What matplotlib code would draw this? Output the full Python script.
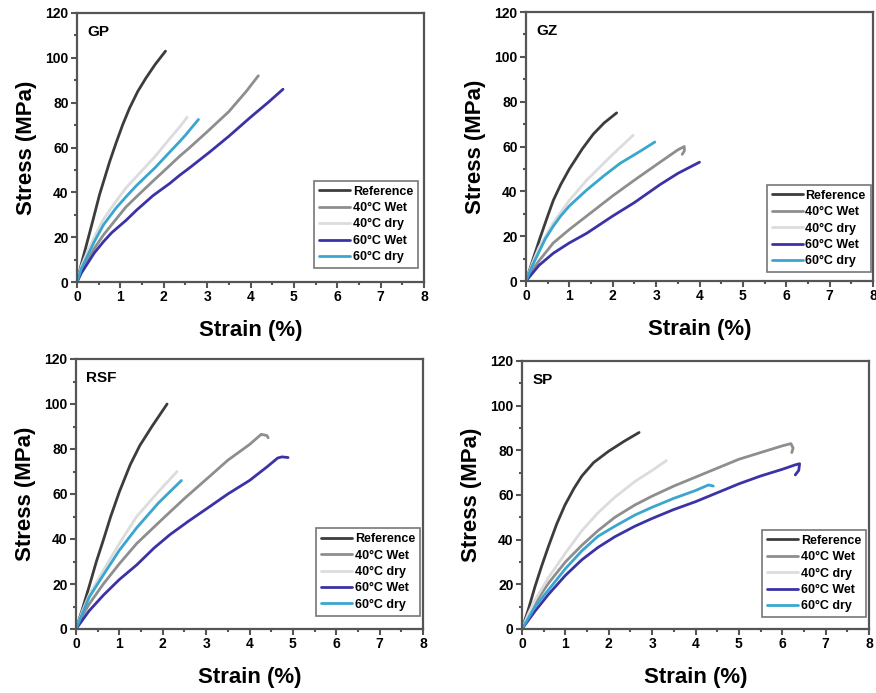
import matplotlib
matplotlib.use("Agg")
import matplotlib.pyplot as plt
from matplotlib.ticker import MultipleLocator

plt.rcParams['font.family'] = ['Liberation Sans', 'DejaVu Sans']
plt.rcParams['font.weight'] = 'bold'

series_names = ["Reference", "40°C Wet", "40°C dry", "60°C Wet", "60°C dry"]
series_colors = ["#3c3c3c", "#8e8e8e", "#dcdcdc", "#3b32a6", "#3aa6cf"]

# GP panel
gp_ref_x = [0, 0.1, 0.21, 0.36, 0.52, 0.75, 0.9, 1.05, 1.21, 1.4, 1.59, 1.8, 2.04]
gp_ref_y = [0, 8, 16, 27, 39, 53.5, 62, 70, 77.5, 85, 91, 97, 103]
gp_w40_x = [0, 0.1, 0.25, 0.4, 0.61, 0.9, 1.13, 1.37, 1.75, 2.14, 2.36, 2.6, 3, 3.5, 3.9, 4.18]
gp_w40_y = [0, 5, 10, 15, 21, 28, 33.5, 38, 45, 52, 56, 60, 67, 76, 85, 92]
gp_d40_x = [0, 0.1, 0.25, 0.4, 0.61, 0.9, 1.13, 1.37, 1.8, 2.14, 2.36, 2.54]
gp_d40_y = [0, 7, 14, 20, 28, 36, 42, 47, 56, 64, 69, 73.5]
gp_w60_x = [0, 0.1, 0.25, 0.4, 0.61, 0.8, 1.13, 1.37, 1.75, 2.14, 2.36, 2.6, 3.06, 3.5, 4, 4.4, 4.75]
gp_w60_y = [0, 4, 8.5, 13, 18, 22, 27.5, 32, 38.5, 44, 47.5, 51, 58, 65, 73.5, 80, 86]
gp_d60_x = [0, 0.1, 0.25, 0.4, 0.61, 0.9, 1.13, 1.37, 1.8, 2.14, 2.36, 2.5, 2.8]
gp_d60_y = [0, 6, 12, 18, 25.5, 33, 38, 43, 51, 58, 62.5, 65.5, 72.5]

# GZ panel
gz_ref_x = [0, 0.15, 0.32, 0.5, 0.63, 0.8, 1.0, 1.3, 1.55, 1.8, 2.09]
gz_ref_y = [0, 9, 19, 29, 36, 43, 50, 59, 65.5, 70.5, 75]
gz_w40_x = [0, 0.15, 0.3, 0.63, 1, 1.4, 2, 2.5, 3.09, 3.5, 3.65, 3.65, 3.6]
gz_w40_y = [0, 5, 9, 17, 23, 29, 38, 45, 53, 58.5, 60, 58, 56.5]
gz_d40_x = [0, 0.15, 0.3, 0.63, 1, 1.4, 2, 2.47]
gz_d40_y = [0, 8, 15, 26, 36, 45, 56.5, 65]
gz_w60_x = [0, 0.15, 0.3, 0.63, 1, 1.4, 2, 2.5, 3.09, 3.5, 4]
gz_w60_y = [0, 3.5, 7, 12.4, 17, 21.3, 29, 35, 43, 48, 53]
gz_d60_x = [0, 0.15, 0.3, 0.45, 0.63, 0.8, 1, 1.4, 1.8, 2.17, 2.6, 2.97]
gz_d60_y = [0, 7, 13, 19, 24.5, 29, 33.5, 40.6, 47, 52.5, 57.5, 62]

# RSF panel
rsf_ref_x = [0, 0.15, 0.32, 0.47, 0.63, 0.8, 1.0, 1.25, 1.47, 1.75, 2.1]
rsf_ref_y = [0, 9, 20, 30, 39.5, 50, 61, 73, 81.5, 90, 100]
rsf_w40_x = [0, 0.15, 0.3, 0.63, 1, 1.4, 2, 2.5, 3.09, 3.5, 4, 4.27, 4.4, 4.43]
rsf_w40_y = [0, 6, 11, 20, 29, 38, 49, 58, 68, 75, 82, 86.5, 86, 85]
rsf_d40_x = [0, 0.15, 0.3, 0.63, 1, 1.4, 1.9, 2.33]
rsf_d40_y = [0, 8, 15, 26, 38, 50, 61, 70]
rsf_w60_x = [0, 0.15, 0.3, 0.63, 1, 1.4, 1.8, 2.17, 2.6, 3.09, 3.5, 4, 4.4, 4.65, 4.75, 4.89]
rsf_w60_y = [0, 4, 8, 15, 22, 28.5, 36, 42, 48, 54.5, 60, 66, 72, 76, 76.5, 76.2]
rsf_d60_x = [0, 0.15, 0.3, 0.63, 1, 1.4, 1.9, 2.43]
rsf_d60_y = [0, 7, 14, 24, 35, 45, 56, 66]

# SP panel
sp_ref_x = [0, 0.15, 0.3, 0.45, 0.61, 0.8, 0.99, 1.2, 1.38, 1.65, 1.99, 2.35, 2.7]
sp_ref_y = [0, 9, 19, 28, 37, 47, 55.5, 63, 68.5, 74.5, 79.5, 84, 88]
sp_w40_x = [0, 0.15, 0.3, 0.61, 1, 1.38, 1.75, 2.14, 2.6, 3, 3.5, 4, 4.5, 5, 5.5, 6, 6.2, 6.25, 6.22]
sp_w40_y = [0, 6, 11.5, 20.5, 30, 37.5, 44, 50, 55.5, 59.5, 64, 68, 72, 76, 79, 82, 83, 81, 79]
sp_d40_x = [0, 0.15, 0.3, 0.61, 1, 1.38, 1.75, 2.14, 2.6, 3, 3.33]
sp_d40_y = [0, 7, 13, 23, 34, 44, 52, 59, 66, 71, 75.4]
sp_w60_x = [0, 0.15, 0.3, 0.61, 1, 1.38, 1.75, 2.14, 2.6, 3, 3.5, 4, 4.5, 5, 5.5, 6, 6.3, 6.4, 6.38, 6.3]
sp_w60_y = [0, 4, 8, 15.5, 24, 31, 36.5, 41.3, 46, 49.5, 53.5, 57, 61, 65, 68.5, 71.5, 73.5, 74, 71, 69]
sp_d60_x = [0, 0.15, 0.3, 0.61, 1, 1.38, 1.75, 2.14, 2.6, 3, 3.5, 4, 4.3, 4.41]
sp_d60_y = [0, 5, 10, 17.5, 27, 35, 41.5, 46, 51, 54.5, 58.5, 62, 64.5, 64]

panels = [
    ("GP", [(gp_ref_x, gp_ref_y), (gp_w40_x, gp_w40_y), (gp_d40_x, gp_d40_y),
            (gp_w60_x, gp_w60_y), (gp_d60_x, gp_d60_y)]),
    ("GZ", [(gz_ref_x, gz_ref_y), (gz_w40_x, gz_w40_y), (gz_d40_x, gz_d40_y),
            (gz_w60_x, gz_w60_y), (gz_d60_x, gz_d60_y)]),
    ("RSF", [(rsf_ref_x, rsf_ref_y), (rsf_w40_x, rsf_w40_y), (rsf_d40_x, rsf_d40_y),
             (rsf_w60_x, rsf_w60_y), (rsf_d60_x, rsf_d60_y)]),
    ("SP", [(sp_ref_x, sp_ref_y), (sp_w40_x, sp_w40_y), (sp_d40_x, sp_d40_y),
            (sp_w60_x, sp_w60_y), (sp_d60_x, sp_d60_y)]),
]

W, H = 876, 693
# axes boxes in pixels: left, top, right, bottom
boxes = [(77, 13, 424, 282), (526, 12, 873, 281), (76, 359, 423, 629), (522, 361, 869, 629)]
legend_boxes = [(313, 173, 419, 276), (770, 183, 867, 274), (316, 521, 420, 623), (762, 523, 866, 624)]

fig = plt.figure(figsize=(W / 100, H / 100), dpi=100)
frame_col = "#555555"

for (name, curves), (l, t, r, b), (ll, lt, lr, lb) in zip(panels, boxes, legend_boxes):
    ax = fig.add_axes([l / W, 1 - b / H, (r - l) / W, (b - t) / H])
    for (xs, ys), lab, col in zip(curves, series_names, series_colors):
        ax.plot(xs, ys, color=col, lw=2, label=lab, solid_capstyle='round',
                solid_joinstyle='round')
    ax.set_xlim(0, 8)
    ax.set_ylim(0, 120)
    ax.xaxis.set_major_locator(MultipleLocator(1))
    ax.xaxis.set_minor_locator(MultipleLocator(0.5))
    ax.yaxis.set_major_locator(MultipleLocator(20))
    ax.yaxis.set_minor_locator(MultipleLocator(10))
    ax.tick_params(which='both', direction='out', color=frame_col, width=1.5,
                   labelsize=10, pad=2)
    ax.tick_params(which='major', length=4)
    ax.tick_params(which='minor', length=2.5)
    for lbl in ax.get_xticklabels() + ax.get_yticklabels():
        lbl.set_fontweight('bold')
    for sp in ax.spines.values():
        sp.set_color(frame_col)
        sp.set_linewidth(1.6)
    ax.set_xlabel("Strain (%)", fontsize=16, fontweight='bold', labelpad=11)
    ax.set_ylabel("Stress (MPa)", fontsize=16, fontweight='bold', labelpad=6)
    ax.text(0.03, 0.955, name, transform=ax.transAxes, fontsize=11,
            fontweight='bold', va='top', ha='left')
    bx = (ll - l) / (r - l)
    by = (b - lb) / (b - t)
    bw = (lr - ll) / (r - l)
    bh = (lb - lt) / (b - t)
    leg = ax.legend(loc='center', bbox_to_anchor=(bx, by, bw, bh),
                    fontsize=9, handlelength=2.5, handletextpad=0.2,
                    labelspacing=0.35, borderpad=0.4, fancybox=False,
                    framealpha=1, edgecolor="#777777")
    leg.get_frame().set_linewidth(1.2)
    for txt in leg.get_texts():
        txt.set_fontweight('bold')

fig.savefig("out.png", dpi=100)
